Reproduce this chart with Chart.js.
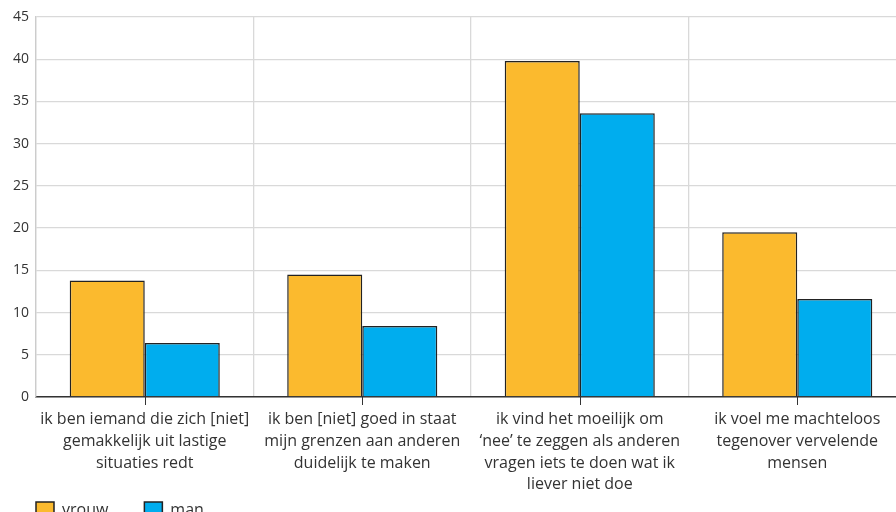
<!DOCTYPE html>
<html>
<head>
<meta charset="utf-8">
<script src="https://cdn.jsdelivr.net/npm/chart.js@4/dist/chart.umd.min.js"></script>
<style>
  html, body { margin: 0; padding: 0; background: #fff; }
  #wrap { width: 896px; height: 512px; overflow: hidden; position: relative; }
  #box { width: 906px; height: 554px; position: absolute; left: 0; top: 0; }
</style>
</head>
<body>
<div id="wrap"><div id="box"><canvas id="chart"></canvas></div></div>
<script>
// categories (multi-line labels) and the two series, in %
const categories = [
  ['ik ben iemand die zich [niet]', 'gemakkelijk uit lastige', 'situaties redt'],
  ['ik ben [niet] goed in staat', 'mijn grenzen aan anderen', 'duidelijk te maken'],
  ['ik vind het moeilijk om', '\u2018nee\u2019 te zeggen als anderen', 'vragen iets te doen wat ik', 'liever niet doe'],
  ['ik voel me machteloos', 'tegenover vervelende', 'mensen']
];
const vrouw = [13.8, 14.5, 39.8, 19.5];
const man = [6.4, 8.4, 33.6, 11.6];
const yTicks = [0, 5, 10, 15, 20, 25, 30, 35, 40, 45];

const TEXT = '#333333';
const GRID = '#d9d9d9';

// small tick marks under each category centre
const centreTicks = {
  id: 'centreTicks',
  afterDraw(chart) {
    const x = chart.scales.x;
    const ctx = chart.ctx;
    ctx.save();
    ctx.strokeStyle = '#333';
    ctx.lineWidth = 1;
    categories.forEach((_, i) => {
      const px = Math.round(x.getPixelForValue(i)) + 0.5;
      ctx.beginPath();
      ctx.moveTo(px, x.top);
      ctx.lineTo(px, x.top + 8);
      ctx.stroke();
    });
    ctx.restore();
  }
};

// pull the legend up so it sits just under the last label line
const legendNudge = {
  id: 'legendNudge',
  afterLayout(chart) {
    const lg = chart.legend;
    if (!lg) return;
    lg.top -= 26;
    lg.bottom -= 26;
  }
};

new Chart(document.getElementById('chart'), {
  type: 'bar',
  data: {
    labels: categories,
    datasets: [
      {
        label: 'vrouw',
        data: vrouw,
        backgroundColor: '#FBBA2E',
        borderColor: '#222222',
        borderWidth: 1.5,
        categoryPercentage: 0.69,
        barPercentage: 1.0,
      },
      {
        label: 'man',
        data: man,
        backgroundColor: '#00ADEE',
        borderColor: '#222222',
        borderWidth: 1.5,
        categoryPercentage: 0.69,
        barPercentage: 1.0,
      },
    ],
  },
  options: {
    responsive: true,
    maintainAspectRatio: false,
    animation: false,
    layout: { padding: { top: 17, left: 0, right: 0, bottom: 0 } },
    plugins: {
      tooltip: { enabled: false },
      legend: {
        position: 'bottom',
        align: 'start',
        labels: {
          color: TEXT,
          font: { family: "'Open Sans', sans-serif", size: 16 },
          boxWidth: 18,
          boxHeight: 16,
          padding: 36,
        },
      },
    },
    scales: {
      x: {
        grid: { color: GRID, lineWidth: 1.3, drawTicks: false, offset: true },
        border: { color: '#333333', width: 1.5 },
        ticks: {
          color: TEXT,
          font: { family: "'Open Sans', sans-serif", size: 16, lineHeight: 1.35 },
          padding: 12,
          maxRotation: 0,
          autoSkip: false,
        },
        afterFit(scale) { scale.height = 95; },
      },
      y: {
        min: 0,
        max: 45,
        afterBuildTicks(scale) { scale.ticks = yTicks.map(v => ({ value: v })); },
        grid: { color: GRID, lineWidth: 1.3, drawTicks: false },
        border: { color: '#cccccc', width: 1.3 },
        ticks: {
          color: TEXT,
          font: { family: "'Open Sans', sans-serif", size: 14 },
          padding: 7,
        },
        afterFit(scale) { scale.width = 36; },
      },
    },
  },
  plugins: [centreTicks, legendNudge],
});
</script>
</body>
</html>
